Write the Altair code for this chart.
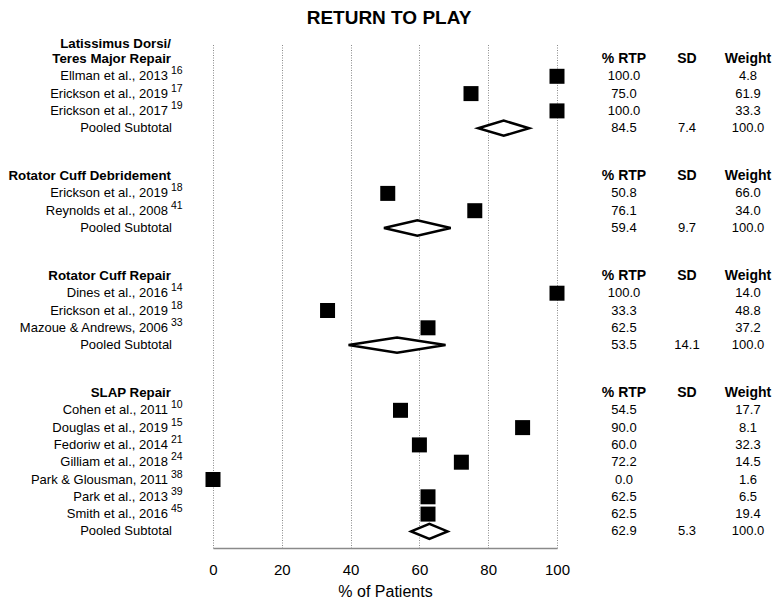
import altair as alt
import pandas as pd

# ---------------- data ----------------
section_titles = [
    "Latissimus Dorsi/\nTeres Major Repair",
    "Rotator Cuff Debridement",
    "Rotator Cuff Repair",
    "SLAP Repair",
]
study_names = [
    ["Ellman et al., 2013", "Erickson et al., 2019", "Erickson et al., 2017"],
    ["Erickson et al., 2019", "Reynolds et al., 2008"],
    ["Dines et al., 2016", "Erickson et al., 2019", "Mazoue & Andrews, 2006"],
    ["Cohen et al., 2011", "Douglas et al., 2019", "Fedoriw et al., 2014",
     "Gilliam et al., 2018", "Park & Glousman, 2011", "Park et al., 2013",
     "Smith et al., 2016"],
]
study_refs = [
    ["16", "17", "19"],
    ["18", "41"],
    ["14", "18", "33"],
    ["10", "15", "21", "24", "38", "39", "45"],
]
study_rtp = [
    [100.0, 75.0, 100.0],
    [50.8, 76.1],
    [100.0, 33.3, 62.5],
    [54.5, 90.0, 60.0, 72.2, 0.0, 62.5, 62.5],
]
study_weight = [
    [4.8, 61.9, 33.3],
    [66.0, 34.0],
    [14.0, 48.8, 37.2],
    [17.7, 8.1, 32.3, 14.5, 1.6, 6.5, 19.4],
]
pooled_rtp = [84.5, 59.4, 53.5, 62.9]
pooled_sd = [7.4, 9.7, 14.1, 5.3]
pooled_weight = [100.0, 100.0, 100.0, 100.0]
table_headers = ["% RTP", "SD", "Weight"]
x_ticks = [0, 20, 40, 60, 80, 100]
chart_title = "RETURN TO PLAY"
x_title = "% of Patients"

# ---------------- layout of rows ----------------
SECTION_GAP = 2.77
DIAMOND_HALF = 0.44
LINE_STEP = 0.87
FONT = "Liberation Sans"

head_rows, table_head_rows, study_rows, pooled_rows, diamond_rows = [], [], [], [], []
r = 0.0
for s, title in enumerate(section_titles):
    lines = title.split("\n")
    for k, line in enumerate(lines):
        head_rows.append({"row": r - (len(lines) - 1 - k) * LINE_STEP,
                          "title": line})
    for c, t in enumerate(table_headers):
        table_head_rows.append({"row": r, "col": c, "txt": t})
    for i, name in enumerate(study_names[s]):
        study_rows.append({
            "row": r + 1 + i,
            "name": name,
            "ref": study_refs[s][i],
            "rtp": study_rtp[s][i],
            "rtp_txt": f"{study_rtp[s][i]:.1f}",
            "w_txt": f"{study_weight[s][i]:.1f}",
        })
    pr = r + len(study_names[s]) + 1
    pooled_rows.append({
        "row": pr,
        "label": "Pooled Subtotal",
        "rtp_txt": f"{pooled_rtp[s]:.1f}",
        "sd_txt": f"{pooled_sd[s]:.1f}",
        "w_txt": f"{pooled_weight[s]:.1f}",
    })
    est, sd = pooled_rtp[s], pooled_sd[s]
    diamond_rows += [
        {"sec": s, "x": est - sd, "y": pr, "y2": pr},
        {"sec": s, "x": est, "y": pr - DIAMOND_HALF, "y2": pr + DIAMOND_HALF},
        {"sec": s, "x": est + sd, "y": pr, "y2": pr},
    ]
    r = pr + SECTION_GAP

heads = pd.DataFrame(head_rows)
studies = pd.DataFrame(study_rows)
pooled = pd.DataFrame(pooled_rows)
diamonds = pd.DataFrame(diamond_rows)
hdr_table = pd.DataFrame(table_head_rows)

y_scale = alt.Scale(domain=[-0.925, 28.27], reverse=True, nice=False, zero=False)
x_scale = alt.Scale(domain=[0, 100], nice=False, zero=False)
x_axis = alt.Axis(values=x_ticks, title=x_title, grid=True, ticks=False,
                  labelFlush=False, labelPadding=14, titlePadding=6,
                  labelFontSize=15, titleFontSize=16, titleFontWeight="normal",
                  labelFont=FONT, titleFont=FONT, labelColor="black",
                  titleColor="black", domainColor="#8a8a8a", domainWidth=1.5,
                  gridColor="#8a8a8a", gridDash=[1, 1.5], gridWidth=1)

Y = alt.Y("row:Q", scale=y_scale, axis=None)

squares = alt.Chart(studies).mark_square(size=225, color="black", opacity=1).encode(
    x=alt.X("rtp:Q", scale=x_scale, axis=x_axis), y=Y)

diamond = alt.Chart(diamonds).mark_area(
    fill="white", stroke="black", strokeWidth=2.5, opacity=1, orient="vertical"
).encode(
    x=alt.X("x:Q", scale=x_scale, axis=x_axis),
    y=alt.Y("y:Q", scale=y_scale, axis=None),
    y2="y2:Q",
    detail="sec:N",
)

def txt(df, field, x, align, size=13, weight="normal", dy=0):
    return alt.Chart(df).mark_text(
        align=align, baseline="middle", font=FONT, fontSize=size,
        fontWeight=weight, color="black", dy=dy
    ).encode(x=alt.value(x), y=Y, text=f"{field}:N")

head_txt = txt(heads, "title", -42, "right", size=13.3, weight="bold")
name_txt = txt(studies, "name", -45, "right")
ref_txt = txt(studies, "ref", -42, "left", size=10.5, dy=-5)
pooled_txt = txt(pooled, "label", -41, "right")

col_x = [411, 474, 535]
th = [txt(hdr_table[hdr_table.col == c], "txt", col_x[c], "center", size=14, weight="bold")
      for c in range(3)]
rtp_txt = txt(studies, "rtp_txt", col_x[0], "center")
w_txt = txt(studies, "w_txt", col_x[2], "center")
prtp_txt = txt(pooled, "rtp_txt", col_x[0], "center")
psd_txt = txt(pooled, "sd_txt", col_x[1], "center")
pw_txt = txt(pooled, "w_txt", col_x[2], "center")

title_df = pd.DataFrame({"t": [chart_title]})
title_txt = alt.Chart(title_df).mark_text(
    align="center", baseline="alphabetic", font=FONT, fontSize=19,
    fontWeight="bold", color="black"
).encode(x=alt.value(176), y=alt.value(-19), text="t:N")

chart = alt.layer(
    diamond, squares, head_txt, name_txt, ref_txt, pooled_txt, *th,
    rtp_txt, w_txt, prtp_txt, psd_txt, pw_txt, title_txt
).properties(
    width=344, height=505,
    autosize=alt.AutoSizeParams(type="none"),
    padding={"left": 205, "top": 35, "right": 215, "bottom": 50},
).configure_view(strokeWidth=0)

chart.save("out.html", embed_options={"renderer": "svg", "actions": False})
